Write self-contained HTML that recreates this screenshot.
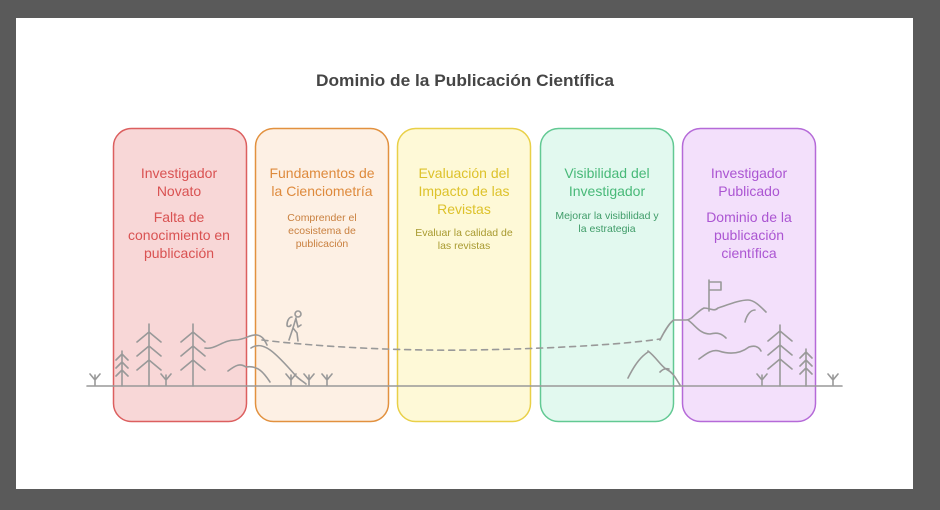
<!DOCTYPE html>
<html><head><meta charset="utf-8"><style>
html,body{margin:0;padding:0;background:#5a5a5a;}
svg{display:block}
</style></head><body>
<svg width="940" height="510" viewBox="0 0 940 510" xmlns="http://www.w3.org/2000/svg" font-family="Liberation Sans, sans-serif">
<rect x="0" y="0" width="940" height="510" fill="#5a5a5a"/>
<rect x="16" y="18" width="897" height="471" fill="#ffffff"/>
<text x="465" y="86" text-anchor="middle" font-size="17" font-weight="bold" fill="#454545" textLength="298" lengthAdjust="spacingAndGlyphs">Dominio de la Publicación Científica</text>

<rect x="113.5" y="128.5" width="133" height="293" rx="18" fill="#f8d7d7" stroke="#dc5f5f" stroke-width="1.5"/>
<rect x="255.5" y="128.5" width="133" height="293" rx="18" fill="#fdf0e4" stroke="#e2913f" stroke-width="1.5"/>
<rect x="397.5" y="128.5" width="133" height="293" rx="18" fill="#fef9d7" stroke="#e9d048" stroke-width="1.5"/>
<rect x="540.5" y="128.5" width="133" height="293" rx="18" fill="#e2f9ef" stroke="#62c993" stroke-width="1.5"/>
<rect x="682.5" y="128.5" width="133" height="293" rx="18" fill="#f3e0fb" stroke="#b56ad8" stroke-width="1.5"/>

<g text-anchor="middle" font-size="14">
<g fill="#d95252">
<text x="179" y="178">Investigador</text><text x="179" y="196">Novato</text>
<text x="179" y="222">Falta de</text><text x="179" y="240">conocimiento en</text><text x="179" y="258">publicación</text>
</g>
<g fill="#de8a3c">
<text x="322" y="178">Fundamentos de</text><text x="322" y="196">la Cienciometría</text>
</g>
<g fill="#ddc22b">
<text x="464" y="178">Evaluación del</text><text x="464" y="196">Impacto de las</text><text x="464" y="214">Revistas</text>
</g>
<g fill="#48b978">
<text x="607" y="178">Visibilidad del</text><text x="607" y="196">Investigador</text>
</g>
<g fill="#ab55d2">
<text x="749" y="178">Investigador</text><text x="749" y="196">Publicado</text>
<text x="749" y="222">Dominio de la</text><text x="749" y="240">publicación</text><text x="749" y="258">científica</text>
</g>
</g>
<g text-anchor="middle" font-size="10.5">
<g fill="#c9803f"><text x="322" y="221">Comprender el</text><text x="322" y="234">ecosistema de</text><text x="322" y="247">publicación</text></g>
<g fill="#a89a30"><text x="464" y="236">Evaluar la calidad de</text><text x="464" y="249">las revistas</text></g>
<g fill="#3f9c68"><text x="607" y="219">Mejorar la visibilidad y</text><text x="607" y="232">la estrategia</text></g>
</g>

<g fill="none" stroke="#999" stroke-width="1.6" stroke-linecap="round" stroke-linejoin="round">
<line x1="87" y1="386" x2="842" y2="386"/>
<path d="M122 386V351 M116 360l6-6 6 6 M116 368l6-6 6 6 M116 376l6-6 6 6"/>
<path d="M149 386V324 M137 342l12-10 12 10 M137 356l12-10 12 10 M137 370l12-10 12 10"/>
<path d="M193 386V324 M181 342l12-10 12 10 M181 356l12-10 12 10 M181 370l12-10 12 10"/>
<path d="M95 385v-10 M90 374l5 6 5-6"/>
<path d="M166 385v-10 M161 374l5 6 5-6"/>
<path d="M291 385v-10 M286 374l5 6 5-6"/>
<path d="M309 385v-10 M304 374l5 6 5-6"/>
<path d="M327 385v-10 M322 374l5 6 5-6"/>
<path d="M205 348c10 2 18-8 30-8 10 0 15 -6 22-5 6 1 8 6 10 10"/>
<path d="M251 348c12-8 24 4 45 28 4 4 8 6 10 8"/>
<path d="M228 371c8-6 12-8 18-4 12-2 18 6 24 15"/>
<circle cx="298" cy="314" r="3"/>
<path d="M296 318l-3 10 4 5 1 8 M293 328l-4 12 M296 319l2 8 3-2"/>
<path d="M292 317c-3 0-5 4-5 8 0 2 3 2 4 0"/>
<path d="M262 340C320 347 400 351 470 350S620 345 660 339" stroke-dasharray="6 5"/>
<path d="M628 378c8-16 14-22 20-26 M648 351c8 6 12 14 18 18 8 4 10 10 14 16 M660 372c3-3 6-4 9-3"/>
<path d="M660 340c4-8 10-18 14-20 h12 c6 0 10-8 18-12 6 0 10 4 14 0 12-4 22-8 30-8 6 0 12 6 18 12"/>
<path d="M688 320c8 6 12 14 22 14 8-2 12 0 16 4"/>
<path d="M699 359c6-4 12-10 20-8 12 4 22 2 30-4 6-2 10 0 12 4"/>
<path d="M745 322c2-8 6-12 10-12"/>
<path d="M709 311V280 M709 282h12v8h-12"/>
<path d="M780 386V325 M768 341l12-10 12 10 M768 355l12-10 12 10 M768 369l12-10 12 10"/>
<path d="M806 386V349 M800 358l6-6 6 6 M800 366l6-6 6 6 M800 374l6-6 6 6"/>
<path d="M762 385v-10 M757 374l5 6 5-6"/>
<path d="M833 385v-10 M828 374l5 6 5-6"/>
</g>
</svg>
</body></html>
